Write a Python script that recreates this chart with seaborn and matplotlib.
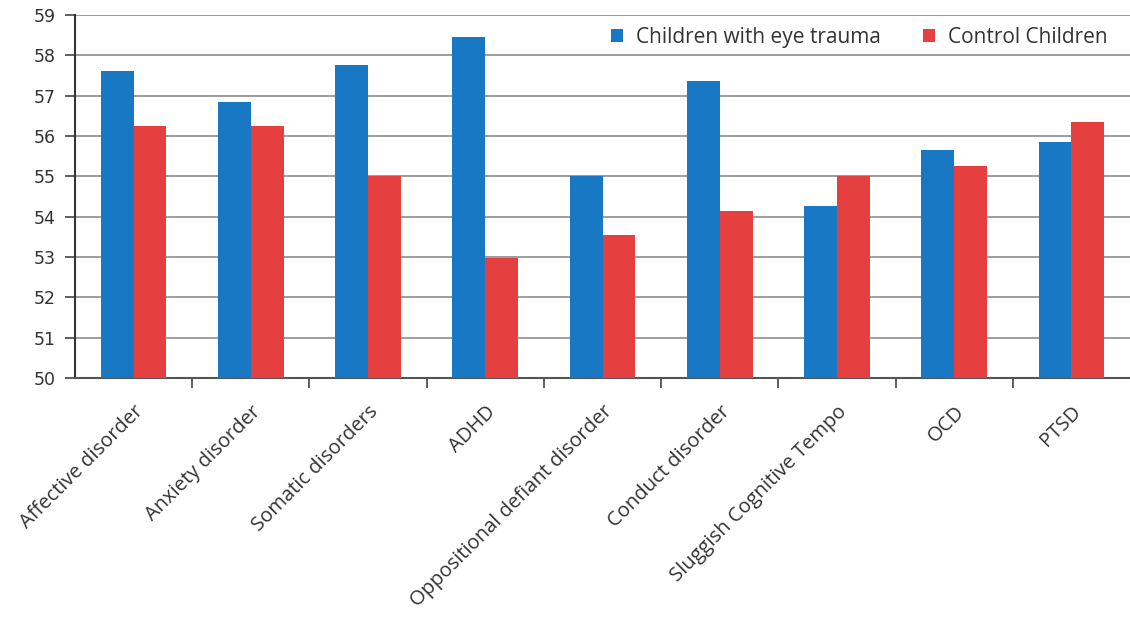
import matplotlib
matplotlib.use("Agg")
import matplotlib.pyplot as plt
import seaborn as sns
import pandas as pd
import numpy as np

categories = ["Affective disorder", "Anxiety disorder", "Somatic disorders", "ADHD",
              "Oppositional defiant disorder", "Conduct disorder",
              "Sluggish Cognitive Tempo", "OCD", "PTSD"]
eye_trauma = [57.6, 56.85, 57.77, 58.46, 55.0, 57.37, 54.27, 55.65, 55.85]
control = [56.25, 56.25, 55.0, 52.97, 53.55, 54.15, 55.0, 55.25, 56.35]
series_names = ["Children with eye trauma", "Control Children"]
y_ticks = list(range(50, 60))

df = pd.DataFrame({
    "category": categories * 2,
    "value": eye_trauma + control,
    "group": [series_names[0]] * len(categories) + [series_names[1]] * len(categories),
})

sns.set_style("white")
plt.rcParams["font.family"] = ["DejaVu Sans"]

fig = plt.figure(figsize=(11.3, 6.19), dpi=100)
ax = fig.add_axes([0.0664, 0.389, 0.9336, 0.5868])

palette = {series_names[0]: "#1878c4", series_names[1]: "#e53f3f"}
sns.barplot(data=df, x="category", y="value", hue="group", palette=palette,
            width=0.56, saturation=1, ax=ax, legend=True, zorder=3,
            linewidth=0, edgecolor="none")

ax.set_ylim(50, 59)
ax.set_xlim(-0.5, len(categories) - 0.5)
ax.set_yticks(y_ticks)
ax.set_yticklabels([str(t) for t in y_ticks], fontsize=12.5, color="#333333")
ax.yaxis.grid(True, color="#8c8c8c", linewidth=1.2, zorder=0)
ax.set_axisbelow(True)
ax.set_xlabel("")
ax.set_ylabel("")

# category labels sit at the group centres; tick marks sit between groups
ax.set_xticks(range(len(categories)))
ax.set_xticklabels(categories, rotation=45, ha="right", rotation_mode="anchor",
                   fontsize=14.5, color="#333333", family="Open Sans")
ax.tick_params(axis="x", which="major", length=0, pad=17, bottom=True)
ax.set_xticks(np.arange(0.5, len(categories) - 0.5, 1.0), minor=True)
ax.tick_params(axis="x", which="minor", length=7, width=1.2, color="#444444",
               bottom=True, direction="out")
ax.tick_params(axis="y", length=7, width=1.2, color="#444444", left=True,
               direction="out", pad=7)

for side in ["top", "right"]:
    ax.spines[side].set_visible(False)
ax.spines["left"].set_color("#333333")
ax.spines["left"].set_linewidth(1.5)
ax.spines["bottom"].set_color("#555555")
ax.spines["bottom"].set_linewidth(1.5)

leg = ax.legend(loc="upper right", ncol=2, frameon=False,
                prop={"family": "Open Sans", "size": 15},
                handlelength=0.6, handleheight=0.6, handletextpad=0.62,
                columnspacing=2.0, borderaxespad=0.0, borderpad=0.3,
                bbox_to_anchor=(0.985, 0.985))
for t in leg.get_texts():
    t.set_color("#333333")

fig.savefig("out.png", dpi=100)
